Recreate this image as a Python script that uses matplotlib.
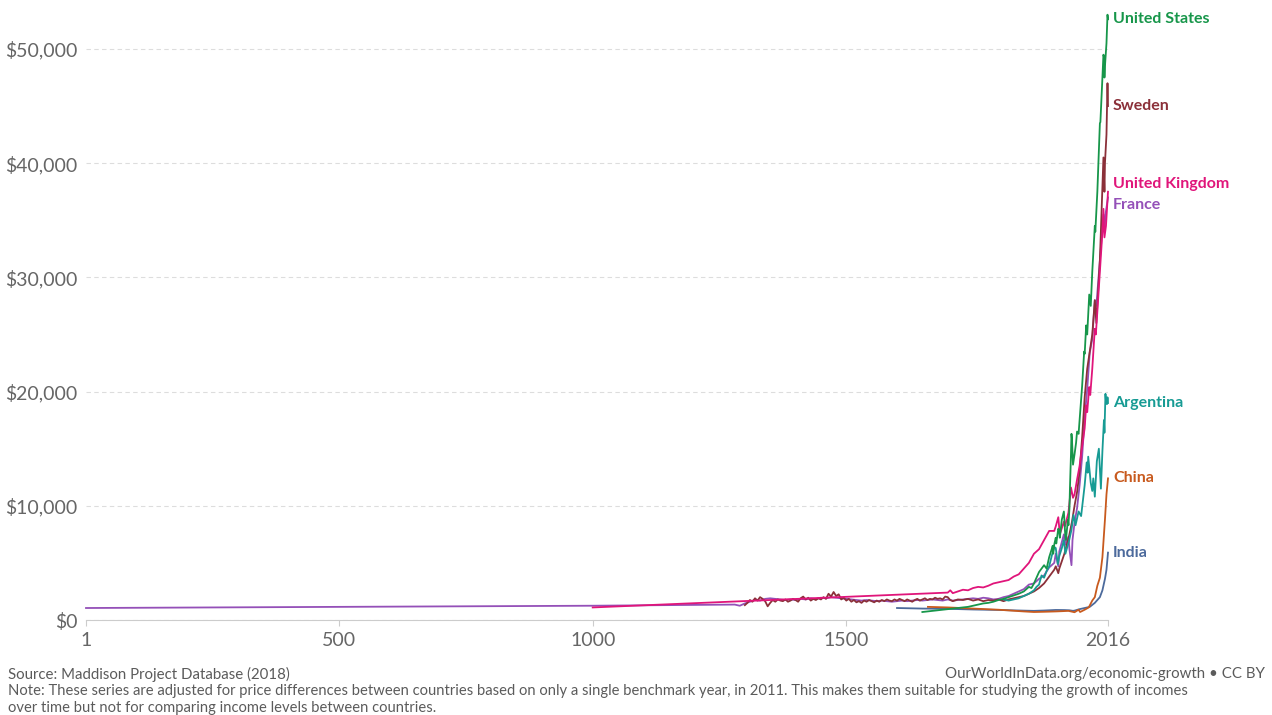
import matplotlib.pyplot as plt
from matplotlib.ticker import FuncFormatter

plt.rcParams['font.family'] = ['Lato', 'DejaVu Sans']

#Values (GDP per capita, 2011 int.-$)
france_years = [1, 1000, 1280, 1290, 1300, 1310, 1320, 1330, 1340, 1350, 1360, 1370, 1380, 1390,
                1400, 1410, 1420, 1430, 1440, 1450, 1460, 1470, 1480, 1490, 1500, 1510, 1520, 1530,
                1540, 1550, 1560, 1570, 1580, 1590, 1600, 1610, 1620, 1630, 1640, 1650, 1660, 1670,
                1680, 1690, 1700, 1710, 1720, 1730, 1740, 1750, 1760, 1770, 1780, 1790, 1800, 1810,
                1820, 1830, 1840, 1850, 1860, 1870, 1880, 1890, 1900, 1910, 1913, 1918, 1920, 1929,
                1932, 1938, 1940, 1944, 1946, 1950, 1955, 1960, 1965, 1970, 1975, 1980, 1985, 1990,
                1993, 2000, 2007, 2009, 2011, 2016]
france_gdp = [1050, 1250, 1350, 1250, 1450, 1600, 1750, 1700, 1850, 1900, 1850, 1800, 1750, 1800,
              1750, 1850, 1800, 1900, 1850, 1950, 1900, 2000, 1950, 1900, 1850, 1800, 1750, 1700,
              1750, 1700, 1650, 1700, 1650, 1600, 1650, 1700, 1650, 1700, 1750, 1700, 1750, 1800,
              1750, 1700, 1800, 1700, 1750, 1800, 1850, 1900, 1850, 1950, 1900, 1800, 1850, 2000,
              2100, 2300, 2500, 2700, 3100, 3200, 3600, 3900, 4600, 5000, 5800, 4700, 6000, 7500,
              6600, 7300, 6200, 4800, 7000, 8500, 9800, 11800, 14300, 17700, 20200, 23400, 24600, 28000,
              27500, 31500, 35500, 34000, 35500, 37000]

sweden_years = [1300, 1305, 1310, 1315, 1320, 1325, 1330, 1335, 1340, 1345, 1350, 1355, 1360, 1365,
                1370, 1375, 1380, 1385, 1390, 1395, 1400, 1405, 1410, 1415, 1420, 1425, 1430, 1435,
                1440, 1445, 1450, 1455, 1460, 1465, 1470, 1475, 1480, 1485, 1490, 1495, 1500, 1505,
                1510, 1515, 1520, 1525, 1530, 1535, 1540, 1545, 1550, 1555, 1560, 1565, 1570, 1575,
                1580, 1585, 1590, 1595, 1600, 1605, 1610, 1615, 1620, 1625, 1630, 1635, 1640, 1645,
                1650, 1655, 1660, 1665, 1670, 1675, 1680, 1685, 1690, 1695, 1700, 1705, 1710, 1720,
                1730, 1740, 1750, 1760, 1770, 1780, 1790, 1800, 1810, 1820, 1830, 1840, 1850, 1860,
                1870, 1880, 1890, 1900, 1910, 1913, 1918, 1920, 1930, 1939, 1945, 1950, 1955, 1960,
                1965, 1970, 1975, 1980, 1985, 1990, 1993, 2000, 2007, 2009, 2010, 2013, 2015, 2016]
sweden_gdp = [1300, 1500, 1750, 1600, 1900, 1700, 2000, 1850, 1650, 1200, 1500, 1750, 1600, 1800,
              1700, 1650, 1800, 1600, 1700, 1850, 1750, 1600, 1900, 2050, 1800, 1950, 1700, 1850,
              1750, 1900, 1800, 2000, 1850, 2300, 2050, 2450, 2100, 2250, 1800, 1950, 1700, 1850,
              1600, 1750, 1550, 1650, 1500, 1700, 1600, 1750, 1650, 1550, 1700, 1600, 1750, 1650,
              1800, 1700, 1650, 1800, 1700, 1850, 1750, 1650, 1800, 1700, 1600, 1750, 1850, 1700,
              1800, 1900, 1750, 1850, 1800, 1950, 1850, 1900, 1800, 2050, 2000, 1750, 1650, 1800,
              1750, 1850, 1700, 1800, 1650, 1750, 1700, 1800, 1650, 1800, 1900, 2000, 2100, 2300,
              2500, 2800, 3200, 3800, 4400, 4700, 4100, 4500, 5800, 7300, 8600, 10000, 11200, 13000,
              16000, 19500, 22000, 23500, 25000, 28000, 26000, 31500, 40500, 37500, 40000, 42500, 47000, 45000]

uk_years = [1000, 1700, 1705, 1710, 1720, 1730, 1740, 1750, 1760, 1770, 1780, 1790, 1800, 1810,
            1820, 1830, 1840, 1850, 1860, 1870, 1880, 1890, 1900, 1910, 1913, 1918, 1921, 1929,
            1931, 1938, 1943, 1947, 1950, 1955, 1960, 1965, 1970, 1973, 1975, 1979, 1981, 1985,
            1990, 1992, 1995, 2000, 2005, 2007, 2009, 2012, 2016]
uk_gdp = [1100, 2400, 2600, 2350, 2500, 2650, 2600, 2800, 2900, 2850, 3000, 3200, 3300, 3400,
          3500, 3800, 4000, 4500, 5000, 5800, 6200, 7000, 7800, 7800, 8200, 9000, 7500, 8600,
          8200, 9400, 11600, 10700, 11000, 12300, 13500, 15200, 16800, 18800, 18200, 20400, 19700, 22000,
          25500, 25000, 27000, 30500, 34000, 36000, 33500, 34500, 37500]

us_years = [1650, 1660, 1670, 1680, 1690, 1700, 1710, 1720, 1730, 1740, 1750, 1760, 1770, 1780,
            1790, 1800, 1810, 1820, 1830, 1840, 1850, 1860, 1865, 1870, 1880, 1890, 1895, 1900,
            1905, 1907, 1908, 1910, 1913, 1914, 1918, 1920, 1921, 1925, 1929, 1932, 1933, 1937,
            1938, 1940, 1941, 1943, 1944, 1945, 1947, 1950, 1953, 1955, 1958, 1960, 1965, 1969,
            1970, 1973, 1975, 1979, 1982, 1985, 1990, 1991, 1995, 2000, 2001, 2005, 2007, 2008,
            2009, 2010, 2013, 2015, 2016]
us_gdp = [700, 750, 800, 850, 900, 950, 1000, 1050, 1100, 1150, 1250, 1350, 1450, 1500,
          1600, 1750, 1850, 2000, 2150, 2300, 2500, 2900, 2800, 3200, 4200, 4800, 4500, 5500,
          6200, 6500, 5800, 6600, 7200, 6700, 8000, 7800, 7200, 8800, 9500, 7200, 7000, 8800,
          8300, 9800, 11600, 14500, 16300, 15800, 13600, 14500, 15500, 16500, 16300, 17500, 20500, 23500,
          23300, 25800, 25000, 28500, 27500, 30500, 34500, 34000, 37500, 43500, 43600, 47500, 49500, 49300,
          47500, 48500, 50500, 53000, 52600]

argentina_years = [1810, 1820, 1830, 1840, 1850, 1860, 1870, 1875, 1880, 1885, 1890, 1895, 1900,
                   1905, 1910, 1913, 1917, 1920, 1925, 1929, 1932, 1939, 1944, 1948, 1952, 1958,
                   1963, 1970, 1974, 1976, 1977, 1982, 1985, 1987, 1990, 1994, 1998, 2002, 2005,
                   2008, 2009, 2011, 2012, 2014, 2015, 2016]
argentina_gdp = [1800, 1700, 1800, 1900, 2100, 2300, 2600, 2900, 3100, 3900, 3700, 4300, 4700,
                 5600, 6400, 6300, 4900, 5600, 6300, 7000, 5800, 6900, 7900, 9200, 8300, 9500,
                 9100, 11800, 13800, 12900, 14300, 12000, 11300, 12400, 10800, 13900, 15000, 11500, 14800,
                 17500, 16400, 19800, 19200, 18900, 19500, 19000]

china_years = [1661, 1700, 1750, 1800, 1850, 1870, 1890, 1913, 1929, 1938, 1950, 1958, 1961,
               1970, 1978, 1985, 1990, 1995, 2000, 2005, 2010, 2013, 2016]
china_gdp = [1150, 1100, 1000, 900, 750, 700, 720, 750, 780, 800, 680, 900, 700,
             900, 1100, 1700, 2000, 3000, 3700, 5500, 8800, 11000, 12400]

india_years = [1600, 1650, 1700, 1750, 1800, 1850, 1870, 1890, 1913, 1930, 1940, 1947, 1950,
               1960, 1970, 1980, 1990, 2000, 2005, 2010, 2013, 2016]
india_gdp = [1050, 1000, 980, 920, 880, 820, 800, 830, 880, 870, 850, 800, 820,
             950, 1050, 1150, 1500, 2000, 2600, 3600, 4400, 5900]

#Draw order, bottom to top
countries = [
    ("India", india_years, india_gdp, "#4c6a9c"),
    ("China", china_years, china_gdp, "#c85a1e"),
    ("France", france_years, france_gdp, "#9450b8"),
    ("Sweden", sweden_years, sweden_gdp, "#8b3039"),
    ("Argentina", argentina_years, argentina_gdp, "#179b94"),
    ("United Kingdom", uk_years, uk_gdp, "#e0157a"),
    ("United States", us_years, us_gdp, "#17964a"),
]
label_nudge = {"United Kingdom": 650, "France": -650}

fig = plt.figure(figsize=(12.72, 7.15), dpi=100)
ax = fig.add_axes([86/1272, 95/715, 1022/1272, 611/715])

for name, yrs, vals, col in countries:
    ax.plot(yrs, vals, color=col, lw=1.3, clip_on=False, solid_joinstyle="round")
    ax.text(2016 + 10, vals[-1] + label_nudge.get(name, 0), name, color=col,
            fontsize=11.5, fontweight="bold", va="center", ha="left")

ax.set_xlim(1, 2016)
ax.set_ylim(0, 53500)
ax.set_xticks([1, 500, 1000, 1500, 2016])
ax.set_yticks([0, 10000, 20000, 30000, 40000, 50000])
ax.yaxis.set_major_formatter(FuncFormatter(lambda v, p: "${:,.0f}".format(v)))
ax.tick_params(axis="y", length=0, pad=6, labelsize=14, labelcolor="#666666")
ax.tick_params(axis="x", length=4, color="#cccccc", pad=5, labelsize=14, labelcolor="#666666")

for s in ["top", "right", "left"]:
    ax.spines[s].set_visible(False)
ax.spines["bottom"].set_color("#cccccc")
ax.grid(axis="y", color="#dddddd", linestyle=(0, (4, 3)), lw=0.8)
ax.set_axisbelow(True)

#Footer
fc = "#5b5b5b"
fig.text(8/1272, 1 - 674/715, "Source: Maddison Project Database (2018)", fontsize=10.8, color=fc, va="center")
fig.text(1265/1272, 1 - 674/715, "OurWorldInData.org/economic-growth \u2022 CC BY", fontsize=10.8,
         color=fc, va="center", ha="right")
fig.text(8/1272, 1 - 691/715, "Note: These series are adjusted for price differences between countries based on only "
         "a single benchmark year, in 2011. This makes them suitable for studying the growth of incomes",
         fontsize=10.6, color=fc, va="center")
fig.text(8/1272, 1 - 708/715, "over time but not for comparing income levels between countries.",
         fontsize=10.6, color=fc, va="center")

fig.savefig("out.png", dpi=100)
